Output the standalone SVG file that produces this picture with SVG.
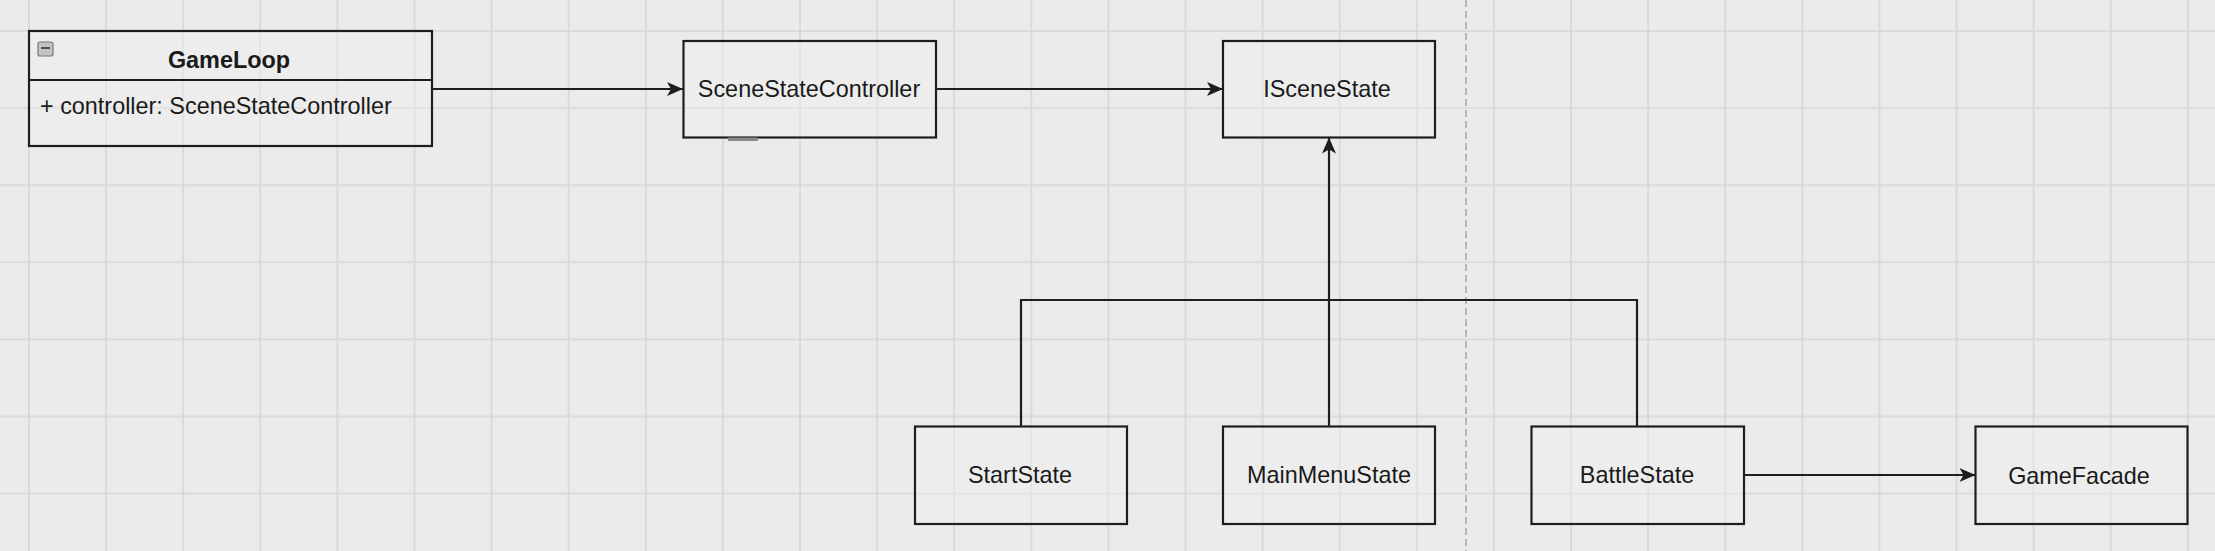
<svg xmlns="http://www.w3.org/2000/svg" width="2215" height="551" viewBox="0 0 2215 551">
  <style>
    .box { fill: #f0f0f0; fill-opacity: 0.4; stroke: #1e1e1e; stroke-width: 2.2; }
    .lbl { font-family: "Liberation Sans", Arial, sans-serif; font-size: 23.4px; fill: #1a1a1a; }
    .mid { text-anchor: middle; }
    .conn { fill: none; stroke: #1e1e1e; stroke-width: 2.2; }
  </style>
  <defs>
    <pattern id="grid" x="28" y="30" width="77.1" height="77.1" patternUnits="userSpaceOnUse">
      <path d="M1 0 V77.1 M0 1 H77.1" stroke="#d6d6d6" stroke-width="1.6" fill="none"/>
    </pattern>
    <marker id="arrow" markerUnits="userSpaceOnUse" markerWidth="18" markerHeight="16" refX="16" refY="7" orient="auto">
      <path d="M0,0 L16,7 L0,14 L4,7 z" fill="#1e1e1e"/>
    </marker>
  </defs>
  <rect x="0" y="0" width="2215" height="551" fill="#ebebeb"/>
  <rect x="0" y="0" width="2215" height="551" fill="url(#grid)"/>
  <line x1="1466" y1="0" x2="1466" y2="551" stroke="#a8a8a8" stroke-width="1.6" stroke-dasharray="7 4"/>

  <g id="connectors">
    <path class="conn" d="M432 89 H683" marker-end="url(#arrow)"/>
    <path class="conn" d="M936 89 H1223" marker-end="url(#arrow)"/>
    <path class="conn" d="M1329 426.5 V137.5" marker-end="url(#arrow)"/>
    <path class="conn" d="M1021 426.5 V300 H1329"/>
    <path class="conn" d="M1637 426.5 V300 H1329"/>
    <path class="conn" d="M1744 475 H1975.5" marker-end="url(#arrow)"/>
  </g>

  <g id="GameLoop">
    <rect class="box" x="29" y="31" width="403" height="115"/>
    <line x1="29" y1="80" x2="432" y2="80" stroke="#1e1e1e" stroke-width="2.2"/>
    <rect x="38" y="42" width="15" height="14" rx="2" fill="#c4c4c4" stroke="#777" stroke-width="1.2"/>
    <line x1="41" y1="48" x2="50" y2="48" stroke="#333" stroke-width="1.6"/>
    <text class="lbl mid" x="229" y="68" font-weight="bold" font-size="23">GameLoop</text>
    <text class="lbl" x="40" y="114">+ controller: SceneStateController</text>
  </g>

  <g id="SceneStateController">
    <rect class="box" x="683.5" y="41" width="252.5" height="96.5"/>
    <rect x="728" y="137.5" width="30" height="3.5" fill="#8a8a8a"/>
    <text class="lbl mid" x="809" y="97">SceneStateController</text>
  </g>

  <g id="ISceneState">
    <rect class="box" x="1223" y="41" width="212" height="96.5"/>
    <text class="lbl mid" x="1327" y="97">ISceneState</text>
  </g>

  <g id="StartState">
    <rect class="box" x="915" y="426.5" width="212" height="97.5"/>
    <text class="lbl mid" x="1020" y="483">StartState</text>
  </g>

  <g id="MainMenuState">
    <rect class="box" x="1223" y="426.5" width="212" height="97.5"/>
    <text class="lbl mid" x="1329" y="483">MainMenuState</text>
  </g>

  <g id="BattleState">
    <rect class="box" x="1531.5" y="426.5" width="212.5" height="97.5"/>
    <text class="lbl mid" x="1637" y="483">BattleState</text>
  </g>

  <g id="GameFacade">
    <rect class="box" x="1975.5" y="426.5" width="212" height="97.5"/>
    <text class="lbl mid" x="2079" y="484">GameFacade</text>
  </g>
</svg>
